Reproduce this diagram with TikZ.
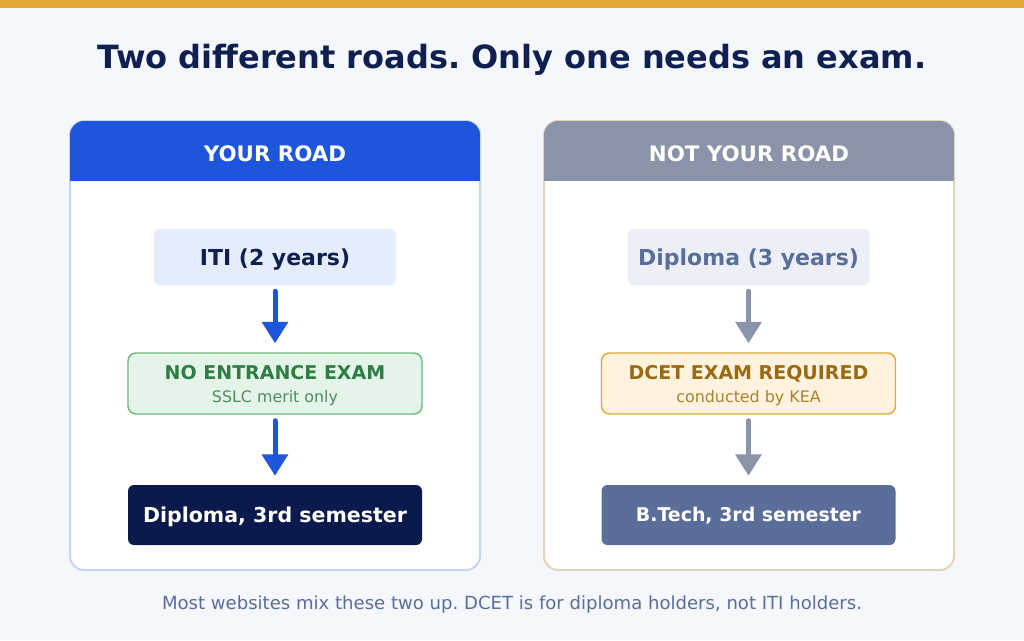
\documentclass[tikz,border=0pt]{standalone}
\usepackage{fontspec}
\setmainfont{DejaVu Sans}
\usepackage{tikz}
\usetikzlibrary{arrows.meta,positioning}
\frenchspacing

\definecolor{pagebg}{HTML}{F4F7FC}
\definecolor{goldbar}{HTML}{E2A935}
\definecolor{titlenavy}{HTML}{0F1F4F}
\definecolor{roadblue}{HTML}{1D56DB}
\definecolor{roadgray}{HTML}{8A93A8}
\definecolor{leftedge}{HTML}{C2D5F2}
\definecolor{rightedge}{HTML}{E3D6B8}
\definecolor{itifill}{HTML}{E4EDFB}
\definecolor{dipfill}{HTML}{ECEFF6}
\definecolor{sltext}{HTML}{5A6E9A}
\definecolor{greenfill}{HTML}{E5F4E9}
\definecolor{greenedge}{HTML}{6CBB7B}
\definecolor{greentext}{HTML}{2E7D43}
\definecolor{greensub}{HTML}{4F8C5F}
\definecolor{orangefill}{HTML}{FFF2DE}
\definecolor{orangeedge}{HTML}{E2A73A}
\definecolor{orangetext}{HTML}{9A6A12}
\definecolor{orangesub}{HTML}{A8832E}
\definecolor{navybox}{HTML}{0B1A4C}
\definecolor{slatebox}{HTML}{5B6E99}

\newcommand{\topstrut}{\rule{0pt}{13.8pt}}

\tikzset{
  card/.style={draw=#1, line width=1.5pt, fill=white, rounded corners=10.5pt,
    minimum width=307.5pt, minimum height=336.75pt, inner sep=0pt},
  headtext/.style={text=white, font=\fontsize{16}{19}\selectfont\bfseries,
    text height=11.7pt, text depth=0pt, inner sep=0pt},
  startbox/.style={fill=#1, rounded corners=4.5pt, minimum width=181.5pt,
    minimum height=42pt, inner sep=0pt, text height=12pt, text depth=0pt,
    font=\fontsize{16.5}{19}\selectfont\bfseries},
  exambox/.style={fill=#1, line width=1.1pt, rounded corners=6pt,
    minimum width=220.5pt, minimum height=45.75pt, inner sep=0pt, align=center,
    font=\fontsize{14.25}{17.25}\selectfont\bfseries},
  endbox/.style={fill=#1, rounded corners=4.5pt, minimum width=220.5pt,
    minimum height=45pt, inner sep=0pt, text=white, text height=11.2pt,
    text depth=0pt, font=\fontsize{15.4}{18}\selectfont\bfseries},
  roadarrow/.style={draw=#1, line width=3.75pt, line cap=round,
    -{Triangle[width=19pt,length=16pt]}, shorten <=4.5pt, shorten >=6.75pt}
}

\begin{document}
\begin{tikzpicture}[x=0.75pt, y=-0.75pt]
  \useasboundingbox (0,0) rectangle (1024,640);
  \fill[pagebg] (0,0) rectangle (1024,640);
  \fill[goldbar] (0,0) rectangle (1024,8);

  \node[anchor=base, text=titlenavy, font=\fontsize{24}{28}\selectfont\bfseries]
    (title) at (512,68) {Two different roads. Only one needs an exam.};

  %Left card
  \node[card=leftedge] (leftcard) at (275,345.5) {};
  \begin{scope}
    \clip[rounded corners=10.5pt] (70,121) rectangle (480,570);
    \fill[roadblue] (70,121) rectangle (480,181);
  \end{scope}
  \node[headtext] (lefthead) at (275,154) {YOUR ROAD};

  \node[startbox=itifill, text=titlenavy] (iti) at (275,257) {ITI (2 years)};
  \node[exambox=greenfill, draw=greenedge, text=greentext] (noexam) at (275,383.5)
    {\topstrut NO ENTRANCE EXAM\\{\fontsize{11.9}{17.25}\selectfont\mdseries\color{greensub}SSLC merit only}};
  \node[endbox=navybox] (dipsem) at (275,515) {Diploma, 3rd semester};

  \draw[roadarrow=roadblue] (iti) -- (noexam);
  \draw[roadarrow=roadblue] (noexam) -- (dipsem);

  %Right card
  \node[card=rightedge] (rightcard) at (749,345.5) {};
  \begin{scope}
    \clip[rounded corners=10.5pt] (544,121) rectangle (954,570);
    \fill[roadgray] (544,121) rectangle (954,181);
  \end{scope}
  \node[headtext] (righthead) at (749,154) {NOT YOUR ROAD};

  \node[startbox=dipfill, text=sltext] (diploma) at (748.5,257) {Diploma (3 years)};
  \node[exambox=orangefill, draw=orangeedge, text=orangetext] (dcet) at (748.5,383.5)
    {\topstrut DCET EXAM REQUIRED\\{\fontsize{11.9}{17.25}\selectfont\mdseries\color{orangesub}conducted by KEA}};
  \node[endbox=slatebox, font=\fontsize{14.2}{17}\selectfont\bfseries, text height=10.4pt]
    (btech) at (748.5,515) {B.Tech, 3rd semester};

  \draw[roadarrow=roadgray] (diploma) -- (dcet);
  \draw[roadarrow=roadgray] (dcet) -- (btech);

  \node[anchor=base, text=sltext, font=\fontsize{13.55}{16}\selectfont]
    (footer) at (512,609) {Most websites mix these two up. DCET is for diploma holders, not ITI holders.};
\end{tikzpicture}
\end{document}
